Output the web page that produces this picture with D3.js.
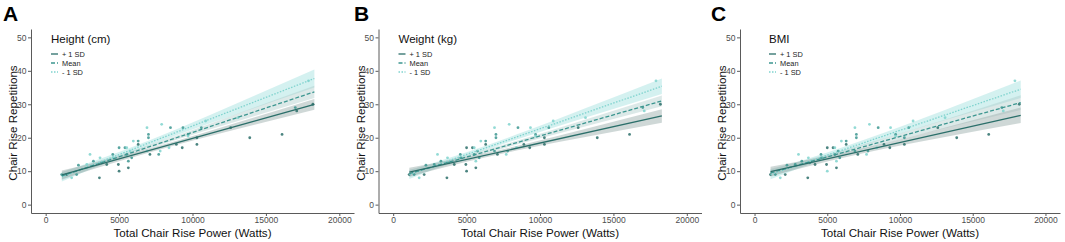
<!DOCTYPE html>
<html lang="en">
<head>
    <meta charset="UTF-8">
    <script src="https://cdnjs.cloudflare.com/ajax/libs/d3/7.8.5/d3.min.js"></script>
    <style>
        body { margin: 0; background: white; }
        text { font-family: "Liberation Sans", Arial, sans-serif; }
        .tick text { font-size: 8.5px; fill: #4d4d4d; }
        .tick line { stroke: #5a5a5a; }
        .domain { stroke: #5a5a5a; stroke-width: 1px; }
        .axis-title { font-size: 11.6px; fill: #111; text-anchor: middle; }
        .panel-letter { font-size: 21px; font-weight: bold; fill: #000; }
        .legend-title { font-size: 11.5px; fill: #111; }
        .legend-label { font-size: 7.4px; fill: #222; }
    </style>
</head>
<body>
<svg id="chart" width="1065" height="242"></svg>
<script>
    // ---- data ----
    const panelLetters = ["A", "B", "C"];
    const legendTitles = ["Height (cm)", "Weight (kg)", "BMI"];
    const groupLabels = ["+ 1 SD", "Mean", "- 1 SD"];
    const xTicks = [0, 5000, 10000, 15000, 20000];
    const yTicks = [0, 10, 20, 30, 40, 50];

    // observed points (Watts, repetitions)
    const powerW = [1090, 1430, 1770, 2110, 2230, 2800, 3020, 3250, 3660, 3700,
        3800, 4160, 4570, 4600, 4950, 5000, 5000, 5400, 5520, 5520,
        5630, 5630, 5750, 5860, 5970, 6300, 6300, 6900, 7000, 7000,
        7100, 6900, 7900, 7700, 7800, 8500, 8400, 8900, 9300, 9350,
        9700, 9700, 10300, 10300, 10600, 10900, 12600, 13100, 13900, 16100,
        17000, 17100, 17900, 18200];
    const reps = [9, 9, 8, 9, 11.8, 12, 15, 13, 8, 14,
        12.5, 12, 15, 14, 12, 10, 17, 17, 17, 15,
        11, 13, 16, 14, 19, 19, 18, 23, 21, 20,
        15, 16, 24, 15, 16, 23, 17, 18, 17, 23,
        21, 20.5, 18, 20, 23, 25, 23, 26, 20, 21,
        29, 28, 37, 30];
    // 0 = +1 SD, 1 = Mean, 2 = -1 SD
    const groupsA = [1, 0, 2, 1, 1, 2, 2, 1, 0, 2,
        1, 0, 1, 2, 0, 0, 1, 1, 2, 1,
        0, 1, 2, 1, 2, 1, 0, 2, 1, 1,
        0, 2, 2, 1, 2, 1, 2, 0, 0, 1,
        1, 2, 0, 0, 1, 2, 0, 2, 0, 0,
        1, 0, 2, 0];
    const groupsB = [0, 1, 2, 0, 1, 1, 2, 1, 0, 2,
        1, 0, 1, 1, 0, 0, 0, 0, 2, 1,
        0, 2, 1, 1, 2, 1, 0, 2, 1, 1,
        0, 1, 2, 2, 1, 1, 2, 0, 0, 2,
        1, 2, 0, 0, 1, 2, 0, 2, 0, 0,
        1, 2, 2, 0];
    const groupsC = [0, 1, 2, 0, 1, 1, 2, 1, 0, 2,
        1, 0, 1, 1, 0, 2, 0, 0, 2, 1,
        0, 2, 1, 1, 2, 1, 0, 2, 1, 1,
        0, 1, 2, 2, 1, 1, 2, 0, 0, 2,
        1, 2, 0, 1, 1, 2, 0, 2, 0, 0,
        1, 2, 2, 0];

    // fitted lines: value at lineX[0] and lineX[1] for +1 SD, Mean, -1 SD
    const lineX = [1100, 18300];
    const fitsA = [[8.9, 30.0], [8.6, 33.7], [8.3, 37.7]];
    const fitsB = [[9.7, 26.5], [9.3, 31.0], [9.0, 35.4]];
    const fitsC = [[9.9, 26.7], [9.5, 30.5], [9.0, 34.5]];

    // confidence band half-widths at ribbonX
    const ribbonX = [1100, 5000, 9000, 13000, 18300];
    const bandsA = [[1.3, 0.7, 0.6, 1.0, 1.6], [1.2, 0.6, 0.6, 1.1, 1.8], [1.4, 0.8, 0.9, 1.6, 2.7]];
    const bandsB = [[1.3, 0.7, 0.7, 1.2, 2.0], [1.1, 0.6, 0.6, 1.0, 1.6], [1.3, 0.7, 0.8, 1.4, 2.3]];
    const bandsC = [[1.4, 0.8, 0.8, 1.4, 2.3], [1.2, 0.7, 0.8, 1.3, 2.2], [1.4, 0.8, 0.9, 1.5, 2.6]];

    const groupsByPanel = [groupsA, groupsB, groupsC];
    const fitsByPanel = [fitsA, fitsB, fitsC];
    const bandsByPanel = [bandsA, bandsB, bandsC];

    // ---- styling / layout ----
    const lineColors = ["#2b6f6a", "#3c9690", "#7fd3ce"];
    const bandColors = ["#9fb1af", "#a8c8c6", "#a9e3e1"];
    const bandOpacity = [0.5, 0.4, 0.5];
    const dashes = [null, "4,2", "1.5,1.5"];

    const layout = [
        {left: 31, right: 354, letterX: 3, yTitleX: 12.5},
        {left: 378.5, right: 701.5, letterX: 354, yTitleX: 361},
        {left: 740, right: 1060, letterX: 711, yTitleX: 722}
    ];
    const plotTop = 29, plotBottom = 213;

    const svg = d3.select("#chart");

    layout.forEach((p, pi) => {
        const x = d3.scaleLinear().domain([-1000, 21000]).range([p.left, p.right]);
        const y = d3.scaleLinear().domain([-2.5, 52.5]).range([plotBottom, plotTop]);
        const g = svg.append("g");

        // bands
        const fits = fitsByPanel[pi];
        const fitAt = (f, xv) => f[0] + (f[1] - f[0]) * (xv - lineX[0]) / (lineX[1] - lineX[0]);
        [2, 1, 0].forEach(k => {
            const area = d3.area()
                .x((d, i) => x(ribbonX[i]))
                .y0((d, i) => y(fitAt(fits[k], ribbonX[i]) - d))
                .y1((d, i) => y(fitAt(fits[k], ribbonX[i]) + d))
                .curve(d3.curveMonotoneX);
            g.append("path")
                .attr("d", area(bandsByPanel[pi][k]))
                .attr("fill", bandColors[k])
                .attr("fill-opacity", bandOpacity[k]);
        });

        // points
        g.selectAll("circle")
            .data(powerW)
            .enter()
            .append("circle")
            .attr("cx", d => x(d))
            .attr("cy", (d, i) => y(reps[i]))
            .attr("r", 1.4)
            .attr("fill", (d, i) => lineColors[groupsByPanel[pi][i]])
            .attr("fill-opacity", 0.85);

        // fitted lines
        [2, 1, 0].forEach(k => {
            g.append("line")
                .attr("x1", x(lineX[0])).attr("x2", x(lineX[1]))
                .attr("y1", y(fits[k][0])).attr("y2", y(fits[k][1]))
                .attr("stroke", lineColors[k])
                .attr("stroke-width", 1.3)
                .attr("stroke-dasharray", dashes[k]);
        });

        // axes
        g.append("g")
            .attr("transform", `translate(0,${plotBottom})`)
            .call(d3.axisBottom(x).tickValues(xTicks).tickFormat(d3.format("d"))
                .tickSize(3).tickSizeOuter(0).tickPadding(0.5));
        g.append("g")
            .attr("transform", `translate(${p.left},0)`)
            .call(d3.axisLeft(y).tickValues(yTicks).tickFormat(d3.format("d"))
                .tickSize(3).tickSizeOuter(0).tickPadding(1.5));

        // titles
        g.append("text")
            .attr("class", "axis-title")
            .attr("x", (p.left + p.right) / 2)
            .attr("y", 236.5)
            .text("Total Chair Rise Power (Watts)");
        g.append("text")
            .attr("class", "axis-title")
            .attr("transform", `translate(${p.yTitleX},${(plotTop + plotBottom) / 2 + 2}) rotate(-90)`)
            .attr("dy", "0.35em")
            .text("Chair Rise Repetitions");
        g.append("text")
            .attr("class", "panel-letter")
            .attr("x", p.letterX)
            .attr("y", 21)
            .text(panelLetters[pi]);

        // legend
        const lx = p.left + (pi === 2 ? 29 : 20);
        const leg = g.append("g").attr("transform", `translate(${lx},0)`);
        leg.append("text")
            .attr("class", "legend-title")
            .attr("x", 0).attr("y", 43)
            .text(legendTitles[pi]);
        groupLabels.forEach((lab, k) => {
            const cy = 54 + k * 9;
            leg.append("line")
                .attr("x1", 0).attr("x2", 7)
                .attr("y1", cy).attr("y2", cy)
                .attr("stroke", lineColors[k])
                .attr("stroke-width", 1.3)
                .attr("stroke-dasharray", dashes[k]);
            leg.append("text")
                .attr("class", "legend-label")
                .attr("x", 11).attr("y", cy)
                .attr("dy", "0.35em")
                .text(lab);
        });
    });
</script>
</body>
</html>
